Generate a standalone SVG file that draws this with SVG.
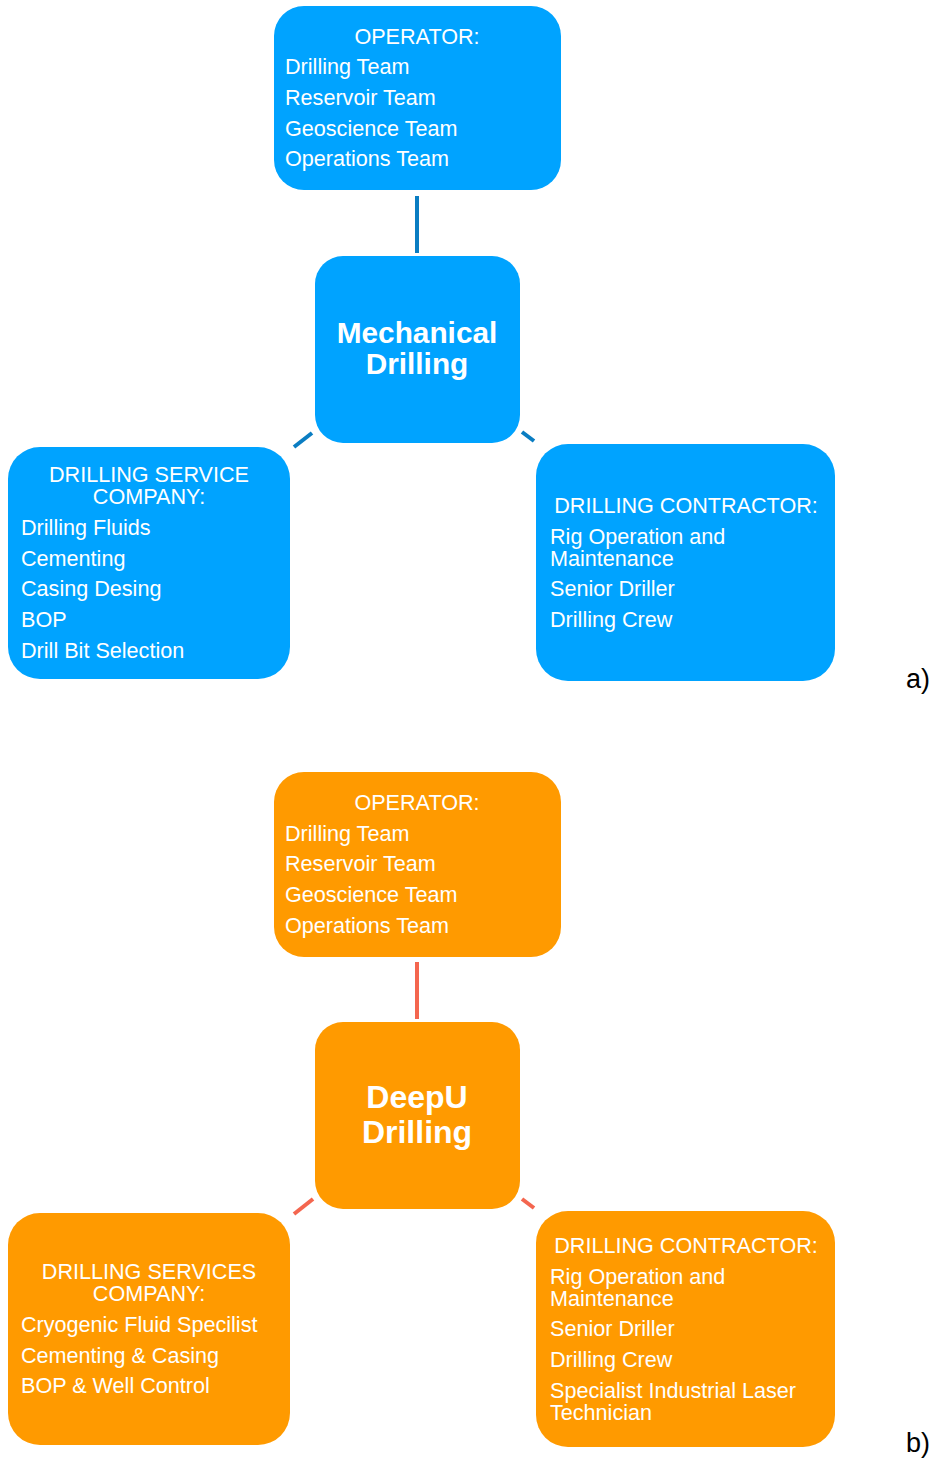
<svg xmlns="http://www.w3.org/2000/svg" width="933" height="1458" viewBox="0 0 933 1458">
<style>
.blue{fill:#00A3FF}
.orange{fill:#FF9A00}
text{font-family:"Liberation Sans",Arial,sans-serif;fill:#fff;font-size:21.6px}
.c{text-anchor:middle}
.b{font-weight:bold;font-size:29.8px}
.b2{font-weight:bold;font-size:32px}
.lbl{fill:#000;font-size:27px}
.cb{stroke:#0A7DC2;stroke-width:4;fill:none}
.co{stroke:#F4664F;stroke-width:4;fill:none}
</style>
<rect width="933" height="1458" fill="#fff"/>
<g id="connectors">
<line class="cb" x1="417" y1="196" x2="417" y2="253"/>
<line class="cb" x1="294" y1="447" x2="312" y2="433"/>
<line class="cb" x1="522" y1="432" x2="534" y2="441"/>
<line class="co" x1="417" y1="962" x2="417" y2="1019"/>
<line class="co" x1="294" y1="1214" x2="313" y2="1199"/>
<line class="co" x1="522" y1="1199" x2="534" y2="1208"/>
</g>
<g id="a-operator">
<rect class="blue" x="274" y="6" width="287" height="184" rx="30"/>
<text class="c" x="417" y="44">OPERATOR:</text>
<text x="285" y="74">Drilling Team</text>
<text x="285" y="105">Reservoir Team</text>
<text x="285" y="136">Geoscience Team</text>
<text x="285" y="166">Operations Team</text>
</g>
<g id="a-center">
<rect class="blue" x="315" y="256" width="205" height="187" rx="28"/>
<text class="c b" x="417" y="343">Mechanical</text>
<text class="c b" x="417" y="374">Drilling</text>
</g>
<g id="a-service">
<rect class="blue" x="8" y="447" width="282" height="232" rx="32"/>
<text class="c" x="149" y="482">DRILLING SERVICE</text>
<text class="c" x="149" y="504">COMPANY:</text>
<text x="21" y="535">Drilling Fluids</text>
<text x="21" y="566">Cementing</text>
<text x="21" y="596">Casing Desing</text>
<text x="21" y="627">BOP</text>
<text x="21" y="658">Drill Bit Selection</text>
</g>
<g id="a-contractor">
<rect class="blue" x="536" y="444" width="299" height="237" rx="32"/>
<text class="c" x="686" y="513">DRILLING CONTRACTOR:</text>
<text x="550" y="544">Rig Operation and</text>
<text x="550" y="566">Maintenance</text>
<text x="550" y="596">Senior Driller</text>
<text x="550" y="627">Drilling Crew</text>
</g>
<text class="lbl" x="906" y="688">a)</text>
<g id="b-operator">
<rect class="orange" x="274" y="772" width="287" height="185" rx="30"/>
<text class="c" x="417" y="810">OPERATOR:</text>
<text x="285" y="841">Drilling Team</text>
<text x="285" y="871">Reservoir Team</text>
<text x="285" y="902">Geoscience Team</text>
<text x="285" y="933">Operations Team</text>
</g>
<g id="b-center">
<rect class="orange" x="315" y="1022" width="205" height="187" rx="28"/>
<text class="c b2" x="417" y="1108">DeepU</text>
<text class="c b2" x="417" y="1143">Drilling</text>
</g>
<g id="b-service">
<rect class="orange" x="8" y="1213" width="282" height="232" rx="32"/>
<text class="c" x="149" y="1279">DRILLING SERVICES</text>
<text class="c" x="149" y="1301">COMPANY:</text>
<text x="21" y="1332">Cryogenic Fluid Specilist</text>
<text x="21" y="1363">Cementing &amp; Casing</text>
<text x="21" y="1393">BOP &amp; Well Control</text>
</g>
<g id="b-contractor">
<rect class="orange" x="536" y="1211" width="299" height="236" rx="32"/>
<text class="c" x="686" y="1253">DRILLING CONTRACTOR:</text>
<text x="550" y="1284">Rig Operation and</text>
<text x="550" y="1306">Maintenance</text>
<text x="550" y="1336">Senior Driller</text>
<text x="550" y="1367">Drilling Crew</text>
<text x="550" y="1398">Specialist Industrial Laser</text>
<text x="550" y="1420">Technician</text>
</g>
<text class="lbl" x="906" y="1452">b)</text>
</svg>
